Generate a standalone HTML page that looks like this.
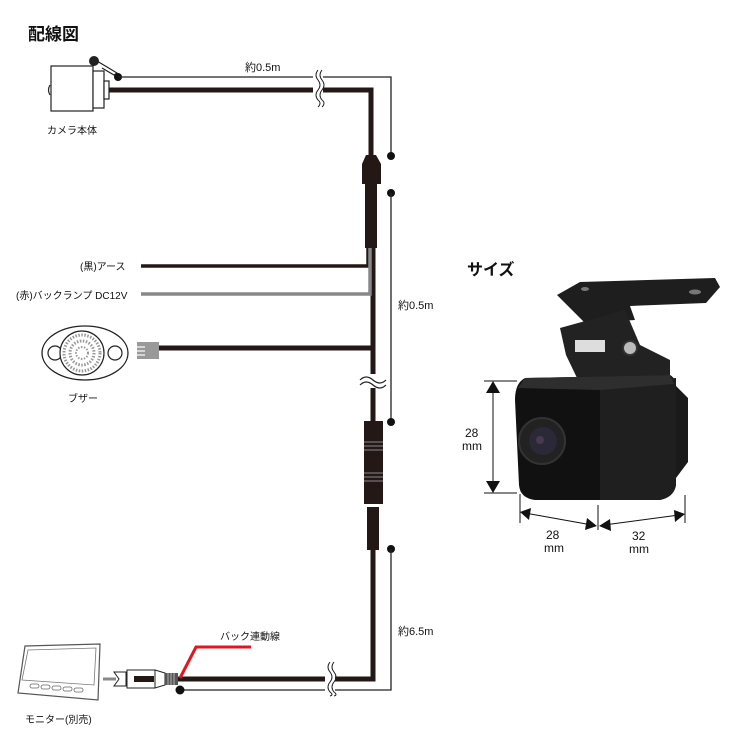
<!DOCTYPE html>
<html><head><meta charset="utf-8"><style>
html,body{margin:0;padding:0;background:#fff;}
svg{display:block;}
text{font-family:"Liberation Sans","Noto Sans CJK JP",sans-serif;fill:#111;}
</style></head><body>
<svg width="750" height="750" viewBox="0 0 750 750" xmlns="http://www.w3.org/2000/svg">
<rect width="750" height="750" fill="#fff"/>
<text x="28" y="40" font-size="17" font-weight="bold">配線図</text>

<!-- camera body -->
<g stroke="#222" stroke-width="1.2" fill="#fff">
  <path d="M50 85 Q47 90 50 95" fill="none"/>
  <rect x="51" y="66" width="42" height="45"/>
  <rect x="93" y="71" width="11" height="37"/>
  <rect x="104" y="81" width="5" height="18"/>
  <path d="M92 58 L117 73 L114 75 L102 68"/>
</g>
<circle cx="94" cy="61" r="5" fill="#222"/>
<text x="47" y="134" font-size="10">カメラ本体</text>

<!-- thin line top -->
<circle cx="118" cy="77" r="4" fill="#111"/>
<polyline points="118,77 391,77 391,156" fill="none" stroke="#222" stroke-width="1.3"/>
<circle cx="391" cy="156" r="4" fill="#111"/>
<text x="245" y="71" font-size="11">約0.5m</text>
<!-- thick top -->
<polyline points="109,90 371,90 371,160" fill="none" stroke="#231815" stroke-width="5"/>
<rect x="313" y="70" width="10" height="36" fill="#fff"/>
<path d="M318 70 q-4 5 0 10 q4 5 0 10 q-4 5 0 10 q4 3 0 7" fill="none" stroke="#222" stroke-width="1"/>
<path d="M322 70 q-4 5 0 10 q4 5 0 10 q-4 5 0 10 q4 3 0 7" fill="none" stroke="#222" stroke-width="1"/>

<!-- upper connector -->
<path d="M366 155 L376 155 L381 164 L381 184 L362 184 L362 164 Z" fill="#231815"/>
<rect x="365" y="184" width="12" height="64" fill="#231815"/>
<circle cx="391" cy="193" r="4" fill="#111"/>
<line x1="391" y1="193" x2="391" y2="422" stroke="#222" stroke-width="1.3"/>
<circle cx="391" cy="422" r="4" fill="#111"/>
<text x="398" y="309" font-size="11">約0.5m</text>

<!-- wires -->
<line x1="373" y1="248" x2="373" y2="421" stroke="#231815" stroke-width="5"/>
<polyline points="141,266 368,266 368,248" fill="none" stroke="#231815" stroke-width="3.5"/>
<polyline points="141,294 370,294 370,248" fill="none" stroke="#888" stroke-width="3.5"/>
<text x="80" y="270" font-size="10">(黒)アース</text>
<text x="16" y="299" font-size="10">(赤)バックランプ DC12V</text>

<!-- buzzer -->
<ellipse cx="85" cy="353" rx="43" ry="27" fill="#fff" stroke="#222" stroke-width="1.3"/>
<circle cx="55" cy="353" r="7" fill="#fff" stroke="#222" stroke-width="1.2"/>
<circle cx="115" cy="353" r="7" fill="#fff" stroke="#222" stroke-width="1.2"/>
<circle cx="82" cy="353" r="22" fill="#fff" stroke="#222" stroke-width="1.2"/>
<circle cx="82" cy="353" r="18" fill="none" stroke="#999" stroke-width="3" stroke-dasharray="1.5 1.5"/>
<circle cx="82" cy="353" r="12" fill="none" stroke="#999" stroke-width="3" stroke-dasharray="1.5 1.5"/>
<circle cx="82" cy="353" r="6" fill="none" stroke="#999" stroke-width="2" stroke-dasharray="1.5 1.5"/>
<text x="68" y="402" font-size="10">ブザー</text>
<rect x="137" y="342" width="22" height="17" fill="#999"/>
<line x1="137" y1="347" x2="145" y2="347" stroke="#fff" stroke-width="1.2"/>
<line x1="137" y1="351" x2="145" y2="351" stroke="#fff" stroke-width="1.2"/>
<line x1="137" y1="355" x2="145" y2="355" stroke="#fff" stroke-width="1.2"/>
<line x1="159" y1="348" x2="373" y2="348" stroke="#231815" stroke-width="5"/>
<rect x="360" y="374" width="26" height="14" fill="#fff"/>
<path d="M360 380 q6 -6 13 0 q7 6 13 0 M360 385 q6 -6 13 0 q7 6 13 0" fill="none" stroke="#222" stroke-width="1.2"/>

<!-- lower connector -->
<rect x="364" y="421" width="19" height="83" fill="#231815"/>
<g stroke="#888" stroke-width="1">
<line x1="364" y1="442" x2="383" y2="442"/><line x1="364" y1="446" x2="383" y2="446"/><line x1="364" y1="450" x2="383" y2="450"/>
<line x1="364" y1="473" x2="383" y2="473"/><line x1="364" y1="477" x2="383" y2="477"/><line x1="364" y1="481" x2="383" y2="481"/>
</g>
<rect x="367" y="507" width="12" height="43" fill="#231815"/>
<circle cx="391" cy="549" r="4" fill="#111"/>
<polyline points="391,549 391,690 180,690" fill="none" stroke="#222" stroke-width="1.3"/>
<circle cx="180" cy="690" r="4.5" fill="#111"/>
<text x="398" y="635" font-size="11">約6.5m</text>
<polyline points="373,549 373,679 178,679" fill="none" stroke="#231815" stroke-width="5"/>
<rect x="325" y="662" width="10" height="34" fill="#fff"/>
<path d="M330 662 q-4 5 0 10 q4 5 0 10 q-4 5 0 10 q4 3 0 4" fill="none" stroke="#222" stroke-width="1"/>
<path d="M334 662 q-4 5 0 10 q4 5 0 10 q-4 5 0 10 q4 3 0 4" fill="none" stroke="#222" stroke-width="1"/>

<!-- red wire -->
<polyline points="180,678 196,647 251,647" fill="none" stroke="#e8141b" stroke-width="3"/>
<text x="220" y="640" font-size="10">バック連動線</text>

<!-- plug -->
<line x1="103" y1="679" x2="116" y2="679" stroke="#888" stroke-width="3"/>
<path d="M114 672 L126 672 L126 686 L114 686 L119 679 Z" fill="#fff" stroke="#222" stroke-width="1"/>
<rect x="127" y="670" width="28" height="18" fill="#fff" stroke="#222" stroke-width="1"/>
<rect x="134" y="676" width="20" height="6" fill="#231815"/>
<path d="M155 670 L165 673 L165 685 L155 688 Z" fill="#fff" stroke="#222" stroke-width="1"/>
<rect x="165" y="673" width="13" height="12" fill="#555"/>
<g stroke="#ccc" stroke-width="0.8"><line x1="168" y1="673" x2="168" y2="685"/><line x1="171" y1="673" x2="171" y2="685"/><line x1="174" y1="673" x2="174" y2="685"/></g>

<!-- monitor -->
<path d="M25 646 L100 644 L98 700 L18 693 Z" fill="#fff" stroke="#555" stroke-width="1.2"/>
<path d="M28 650 L96 648 L94 685 L22 680 Z" fill="#fff" stroke="#777" stroke-width="0.8"/>
<g fill="#fff" stroke="#666" stroke-width="0.8">
<rect x="30" y="684" width="9" height="4" rx="2"/><rect x="41" y="685" width="9" height="4" rx="2"/><rect x="52" y="686" width="9" height="4" rx="2"/><rect x="63" y="687" width="9" height="4" rx="2"/><rect x="74" y="688" width="9" height="4" rx="2"/>
</g>
<text x="25" y="723" font-size="10">モニター(別売)</text>

<!-- size -->
<text x="467" y="275" font-size="16" font-weight="bold">サイズ</text>
<!-- bracket -->
<path d="M557 295 L580 282 L715 278 L720 287 L706 303 L630 306 L635 320 L585 323 Z" fill="#1e1e1e"/>
<ellipse cx="585" cy="289" rx="4" ry="2" fill="#777"/>
<ellipse cx="695" cy="292" rx="6" ry="2.5" fill="#777"/>
<path d="M560 328 L625 310 L640 345 L670 360 L670 385 L578 380 L566 355 Z" fill="#222"/>
<rect x="575" y="340" width="30" height="12" fill="#ddd"/>
<circle cx="630" cy="348" r="7" fill="#bbb" stroke="#333" stroke-width="2"/>
<!-- body -->
<path d="M668 378 L688 398 L688 462 L676 478 L668 480 Z" fill="#1a1a1a"/>
<path d="M525 378 L670 375 Q676 378 676 388 L676 485 Q674 497 660 500 L535 500 Q520 498 519 485 L515 400 Q515 383 525 378 Z" fill="#111"/>
<path d="M600 383 L676 378 L676 485 Q674 497 660 500 L600 500 Z" fill="#1f1f1f"/>
<path d="M525 378 L670 375 L674 384 L600 390 L518 388 Z" fill="#2e2e2e"/>
<circle cx="542" cy="441" r="23" fill="#222" stroke="#333" stroke-width="2"/>
<circle cx="543" cy="441" r="14" fill="#2b2838"/>
<circle cx="540" cy="440" r="4" fill="#4a3950"/>
<!-- dims -->
<g stroke="#111" stroke-width="1">
<line x1="484" y1="381" x2="517" y2="381"/><line x1="484" y1="493" x2="517" y2="493"/>
<line x1="493" y1="390" x2="493" y2="484"/>
<line x1="520" y1="494" x2="520" y2="523"/><line x1="598" y1="505" x2="598" y2="530"/><line x1="685" y1="495" x2="685" y2="523"/>
<line x1="525" y1="513" x2="592" y2="525"/><line x1="604" y1="525" x2="679" y2="515"/>
</g>
<g fill="#111">
<path d="M493 381 L486 393 L500 393 Z"/><path d="M493 493 L486 481 L500 481 Z"/>
<path d="M520 512 L531 508 L529 520 Z"/><path d="M597 526 L585 530 L587 518 Z"/>
<path d="M599 526 L610 519 L611 531 Z"/><path d="M685 514 L674 510 L675 522 Z"/>
</g>
<text x="465" y="437" font-size="12">28</text>
<text x="462" y="450" font-size="12">mm</text>
<text x="546" y="539" font-size="12">28</text>
<text x="544" y="552" font-size="12">mm</text>
<text x="632" y="540" font-size="12">32</text>
<text x="629" y="553" font-size="12">mm</text>
</svg>
</body></html>
